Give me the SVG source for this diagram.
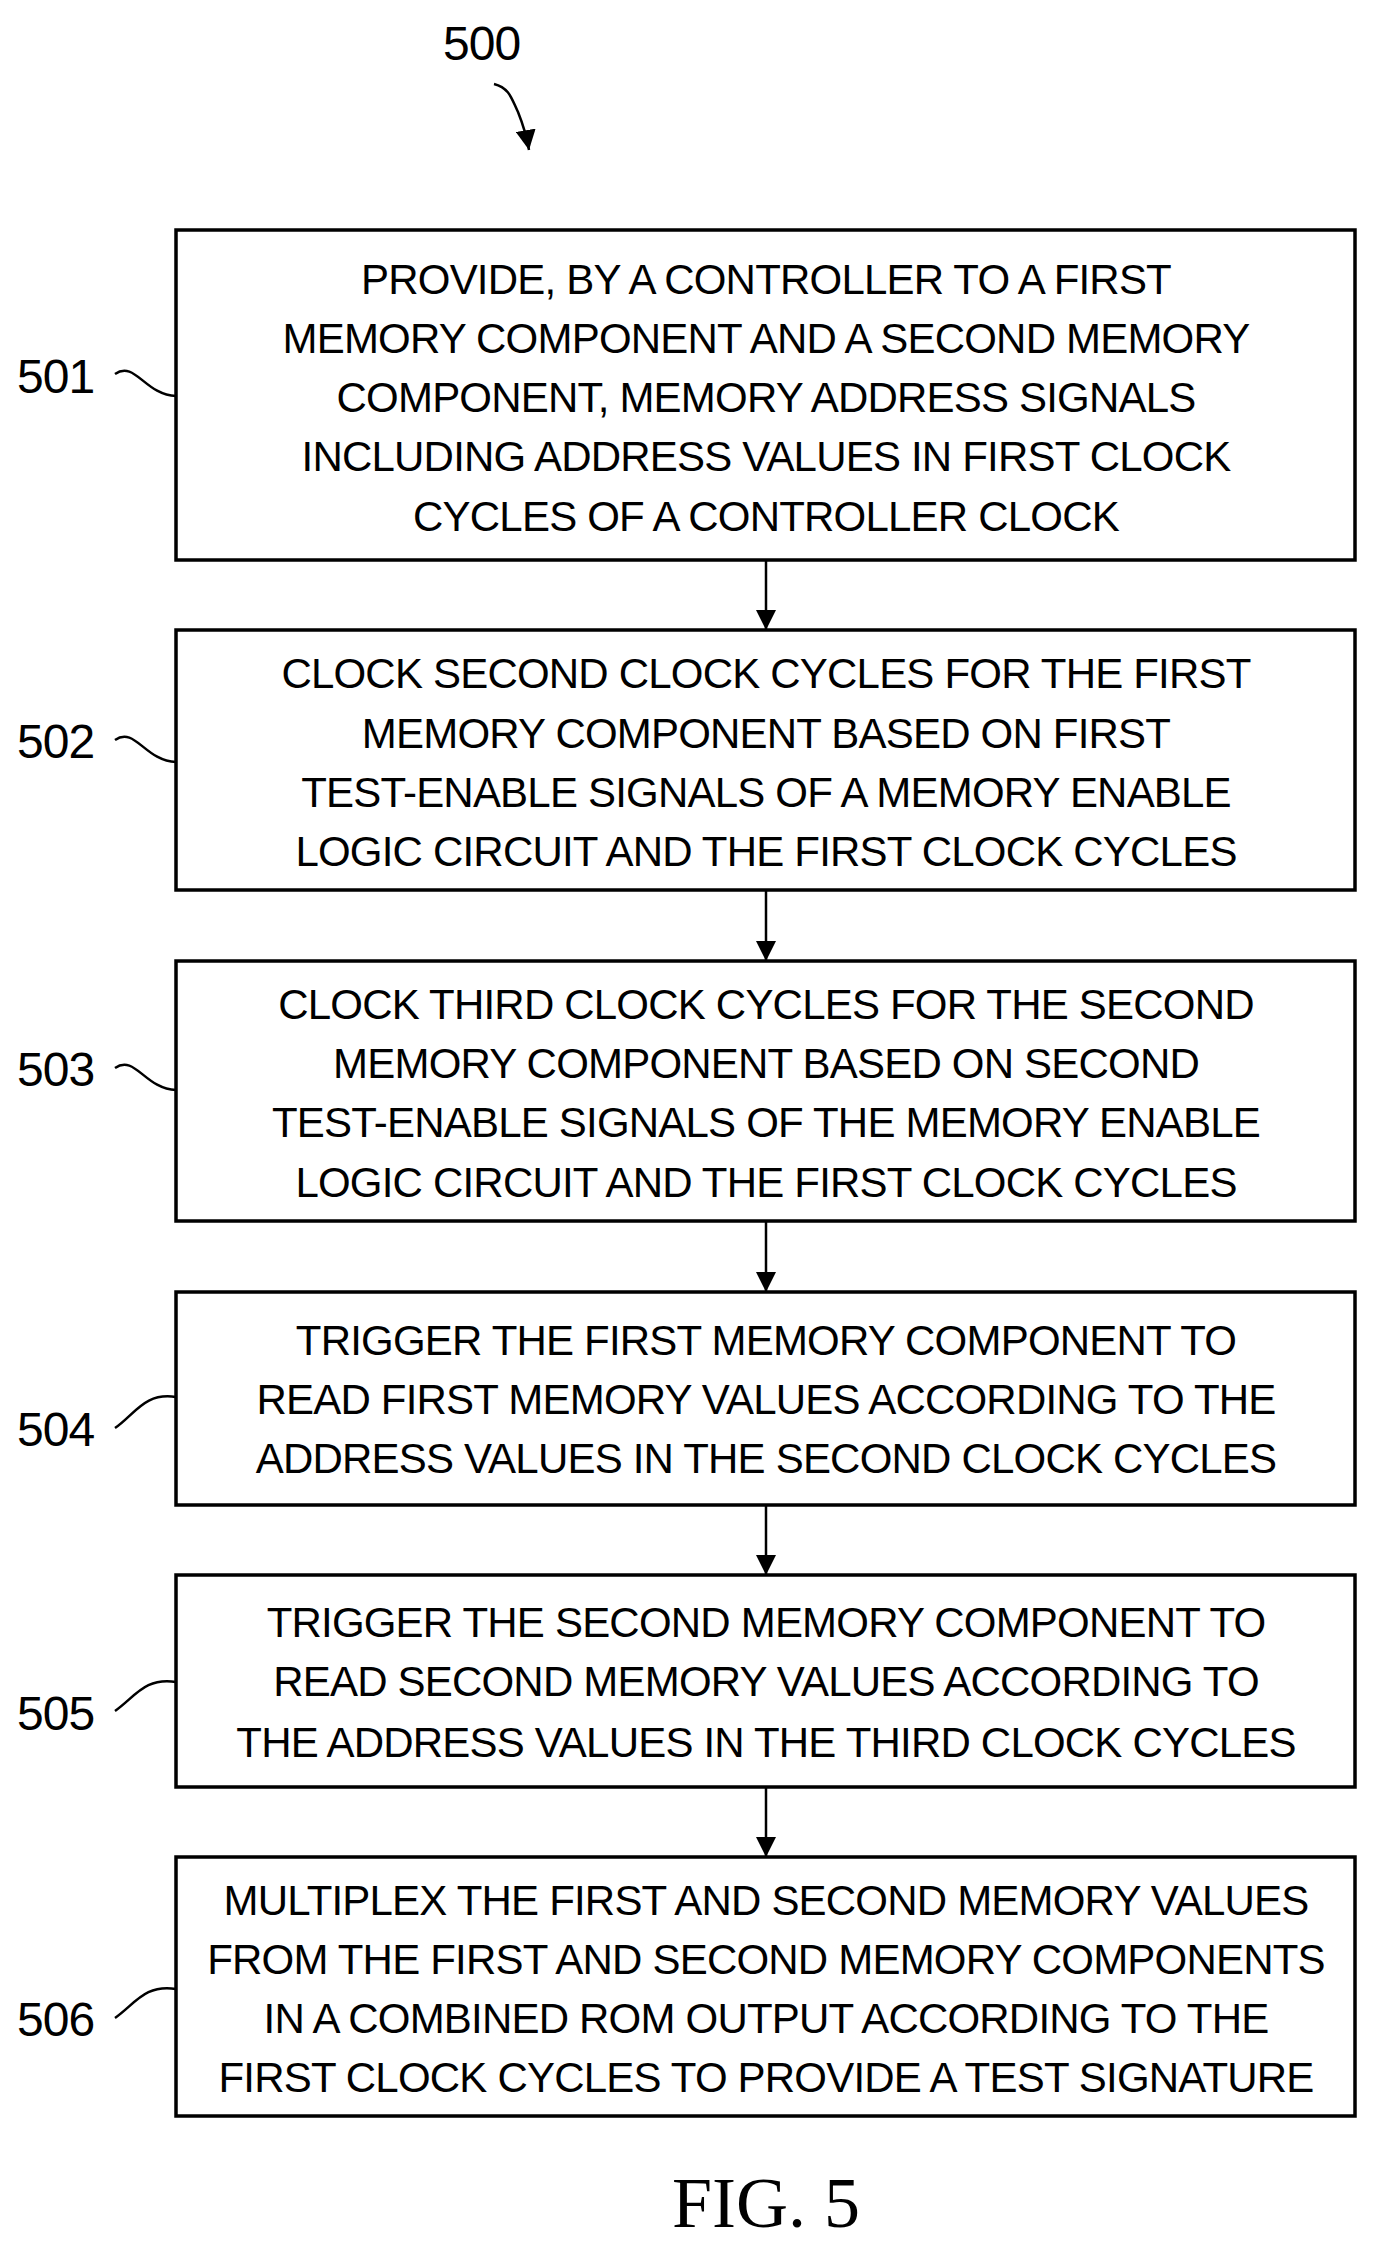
<svg xmlns="http://www.w3.org/2000/svg" width="1381" height="2260" viewBox="0 0 1381 2260">
<style>
.b{fill:#fff;stroke:#000;stroke-width:3.5}
.t{font-family:"Liberation Sans",Arial,sans-serif;font-size:42px;letter-spacing:-0.8px;text-anchor:middle;fill:#000}
.l{font-family:"Liberation Sans",Arial,sans-serif;font-size:48px;letter-spacing:-1px;fill:#000}
.c{fill:none;stroke:#000;stroke-width:2.5}
</style>
<defs><marker id="a2" viewBox="0 0 10 10" refX="10" refY="5" markerWidth="20" markerHeight="20" markerUnits="userSpaceOnUse" orient="auto"><path d="M0,0L10,5L0,10z"/></marker></defs>
<rect width="1381" height="2260" fill="#fff"/>
<text class="l" x="443" y="60">500</text>
<path class="c" d="M494,84 C510,88 512,100 518,112 C522,122 526,132 529,150" marker-end="url(#a2)"/>
<g id="n501"><rect class="b" x="176" y="230" width="1179" height="330"/>
<text class="t" x="766" y="294">PROVIDE, BY A CONTROLLER TO A FIRST</text>
<text class="t" x="766" y="353">MEMORY COMPONENT AND A SECOND MEMORY</text>
<text class="t" x="766" y="412">COMPONENT, MEMORY ADDRESS SIGNALS</text>
<text class="t" x="766" y="471">INCLUDING ADDRESS VALUES IN FIRST CLOCK</text>
<text class="t" x="766" y="531">CYCLES OF A CONTROLLER CLOCK</text>
<text class="l" x="17" y="393">501</text></g>
<g id="n502"><rect class="b" x="176" y="630" width="1179" height="260"/>
<text class="t" x="766" y="688">CLOCK SECOND CLOCK CYCLES FOR THE FIRST</text>
<text class="t" x="766" y="748">MEMORY COMPONENT BASED ON FIRST</text>
<text class="t" x="766" y="807">TEST-ENABLE SIGNALS OF A MEMORY ENABLE</text>
<text class="t" x="766" y="866">LOGIC CIRCUIT AND THE FIRST CLOCK CYCLES</text>
<text class="l" x="17" y="758">502</text></g>
<g id="n503"><rect class="b" x="176" y="961" width="1179" height="260"/>
<text class="t" x="766" y="1019">CLOCK THIRD CLOCK CYCLES FOR THE SECOND</text>
<text class="t" x="766" y="1078">MEMORY COMPONENT BASED ON SECOND</text>
<text class="t" x="766" y="1137">TEST-ENABLE SIGNALS OF THE MEMORY ENABLE</text>
<text class="t" x="766" y="1197">LOGIC CIRCUIT AND THE FIRST CLOCK CYCLES</text>
<text class="l" x="17" y="1086">503</text></g>
<g id="n504"><rect class="b" x="176" y="1292" width="1179" height="213"/>
<text class="t" x="766" y="1355">TRIGGER THE FIRST MEMORY COMPONENT TO</text>
<text class="t" x="766" y="1414">READ FIRST MEMORY VALUES ACCORDING TO THE</text>
<text class="t" x="766" y="1473">ADDRESS VALUES IN THE SECOND CLOCK CYCLES</text>
<text class="l" x="17" y="1446">504</text></g>
<g id="n505"><rect class="b" x="176" y="1575" width="1179" height="212"/>
<text class="t" x="766" y="1637">TRIGGER THE SECOND MEMORY COMPONENT TO</text>
<text class="t" x="766" y="1696">READ SECOND MEMORY VALUES ACCORDING TO</text>
<text class="t" x="766" y="1757">THE ADDRESS VALUES IN THE THIRD CLOCK CYCLES</text>
<text class="l" x="17" y="1730">505</text></g>
<g id="n506"><rect class="b" x="176" y="1857" width="1179" height="259"/>
<text class="t" x="766" y="1915">MULTIPLEX THE FIRST AND SECOND MEMORY VALUES</text>
<text class="t" x="766" y="1974">FROM THE FIRST AND SECOND MEMORY COMPONENTS</text>
<text class="t" x="766" y="2033">IN A COMBINED ROM OUTPUT ACCORDING TO THE</text>
<text class="t" x="766" y="2092">FIRST CLOCK CYCLES TO PROVIDE A TEST SIGNATURE</text>
<text class="l" x="17" y="2036">506</text></g>
<g id="connectors">
<path class="c" d="M766,560V630" marker-end="url(#a2)"/>
<path class="c" d="M766,890V961" marker-end="url(#a2)"/>
<path class="c" d="M766,1221V1292" marker-end="url(#a2)"/>
<path class="c" d="M766,1505V1575" marker-end="url(#a2)"/>
<path class="c" d="M766,1787V1857" marker-end="url(#a2)"/>
<path class="c" d="M115,374 C135,360 145,395 176,396"/>
<path class="c" d="M115,740 C135,726 145,761 176,762"/>
<path class="c" d="M115,1068 C135,1054 145,1089 176,1090"/>
<path class="c" d="M115,1428 C135,1414 145,1392 176,1397"/>
<path class="c" d="M115,1711 C135,1697 145,1677 176,1682"/>
<path class="c" d="M115,2018 C135,2004 145,1984 176,1989"/>
</g>
<text x="766" y="2227" style="font-family:'Liberation Serif',serif;font-size:72px;text-anchor:middle">FIG. 5</text>
</svg>
